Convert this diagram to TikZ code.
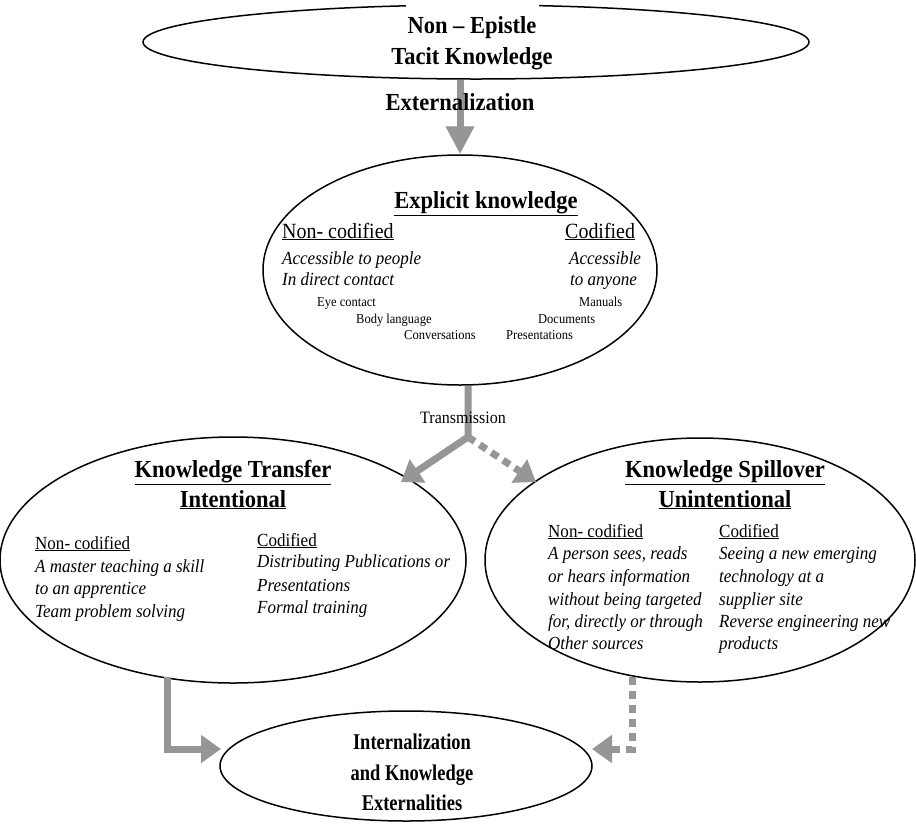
\documentclass[tikz,border=0pt]{standalone}
\usepackage{fontspec}
\setmainfont{Liberation Serif}[FakeStretch=0.92]
\newfontfamily\condfont{Liberation Serif}[FakeStretch=0.82]
\usetikzlibrary{shapes.geometric,arrows.meta}
\definecolor{arrgray}{RGB}{150,150,150}
\begin{document}
\begin{tikzpicture}[x=1pt,y=-1pt,
  ell/.style={draw, line width=1.5pt, ellipse, inner sep=0pt},
  big/.style={font=\fontsize{24.5}{28}\selectfont\bfseries, inner sep=0pt, anchor=base},
  bigint/.style={font=\condfont\fontsize{22.5}{26}\selectfont\bfseries, inner sep=0pt, anchor=base},
  hdr/.style={font=\fontsize{18.5}{22}\selectfont, inner sep=0pt, anchor=base west},
  hdrx/.style={font=\fontsize{21.7}{25}\selectfont, inner sep=0pt, anchor=base west},
  itl/.style={font=\fontsize{18.5}{22}\selectfont\itshape, inner sep=0pt, anchor=base west},
  smalltxt/.style={font=\fontsize{13.6}{16}\selectfont, inner sep=0pt, anchor=base west},
  arr/.style={draw=arrgray, line width=7pt, line join=miter, -{Triangle[length=20pt,width=27pt]}},
  darr/.style={arr, dash pattern=on 8pt off 6pt},
]
\useasboundingbox (0,0) rectangle (916,823);
\fill[white] (0,0) rectangle (916,823);
\clip (0,0) rectangle (916,823);

% ellipses
\node[ell, minimum width=666pt, minimum height=74pt] (tacit) at (476,42) {};
\node[ell, minimum width=394pt, minimum height=230pt] (explicit) at (460,270) {};
\node[ell, minimum width=466pt, minimum height=246pt] (transfer) at (233,560) {};
\node[ell, minimum width=430pt, minimum height=244pt] (spill) at (700,560) {};
\node[ell, minimum width=372pt, minimum height=110pt] (internal) at (406,766) {};

% coordinates for connector ends
\coordinate (split) at (468,437);
\coordinate (tipL) at (401,482);
\coordinate (tipR) at (536,482);
\coordinate (lstart) at (167,677);
\coordinate (lend) at (221,749);
\coordinate (rstart) at (632,677);
\coordinate (rend) at (592,749);

% connectors
\draw[arr, -{Triangle[length=28pt,width=27pt]}] (explicit.north |- tacit.south) -- (explicit.north);
\draw[arr] (explicit.south -| split) -- (split) -- (tipL);
\draw[darr] (split) -- (tipR);
\draw[arr] (lstart) |- (lend);
\draw[darr] (rstart) |- (rend);

% top ellipse text
\node[big, fill=white, inner xsep=2pt, inner ysep=16pt] (t1) at (472,33) {Non – Epistle};
\node[big] (t2) at (472,64) {Tacit Knowledge};
\node[big] (ext) at (460,110) {Externalization};

% explicit knowledge
\node[big] (e1) at (486,208) {\underline{Explicit knowledge}};
\node[hdrx] (e2) at (282,238) {\underline{Non- codified}};
\node[hdrx] (e3) at (565,238) {\underline{Codified}};
\node[itl] (e4) at (282,264) {Accessible to people};
\node[itl] (e5) at (282,285) {In direct contact};
\node[itl] (e6) at (569,264) {Accessible};
\node[itl] (e7) at (570,285) {to anyone};
\node[smalltxt] (e8) at (317,306) {Eye contact};
\node[smalltxt] (e9) at (356,323) {Body language};
\node[smalltxt] (e10) at (404,339) {Conversations};
\node[smalltxt] (e11) at (579,306) {Manuals};
\node[smalltxt] (e12) at (538,323) {Documents};
\node[smalltxt] (e13) at (506,339) {Presentations};

\node[font=\fontsize{17.4}{20}\selectfont, inner sep=0pt, anchor=base west] (trans) at (420,423) {Transmission};

% knowledge transfer
\node[big] (k1) at (233,477) {\underline{Knowledge Transfer}};
\node[big] (k2) at (233,507) {\underline{Intentional}};
\node[hdr] (k3) at (35,549) {\underline{Non- codified}};
\node[itl] (k4) at (35,572) {A master teaching a skill};
\node[itl] (k5) at (35,594) {to an apprentice};
\node[itl] (k6) at (35,617) {Team problem solving};
\node[hdr] (k7) at (257,546) {\underline{Codified}};
\node[itl] (k8) at (257,567) {Distributing Publications or};
\node[itl] (k9) at (257,591) {Presentations};
\node[itl] (k10) at (257,613) {Formal training};

% knowledge spillover
\node[big] (s1) at (725,477) {\underline{Knowledge Spillover}};
\node[big] (s2) at (725,507) {\underline{Unintentional}};
\node[hdr] (s3) at (548,537) {\underline{Non- codified}};
\node[itl] (s4) at (548,559) {A person sees, reads};
\node[itl] (s5) at (548,582) {or hears information};
\node[itl] (s6) at (548,605) {without being targeted};
\node[itl] (s7) at (548,627) {for, directly or through};
\node[itl] (s8) at (548,649) {Other sources};
\node[hdr] (s9) at (719,537) {\underline{Codified}};
\node[itl] (s10) at (719,559) {Seeing a new emerging};
\node[itl] (s11) at (719,582) {technology at a};
\node[itl] (s12) at (719,605) {supplier site};
\node[itl] (s13) at (719,627) {Reverse engineering new};
\node[itl] (s14) at (719,649) {products};

% internalization
\node[bigint] (i1) at (412,749) {Internalization};
\node[bigint] (i2) at (412,780) {and Knowledge};
\node[bigint] (i3) at (412,810) {Externalities};
\end{tikzpicture}
\end{document}
